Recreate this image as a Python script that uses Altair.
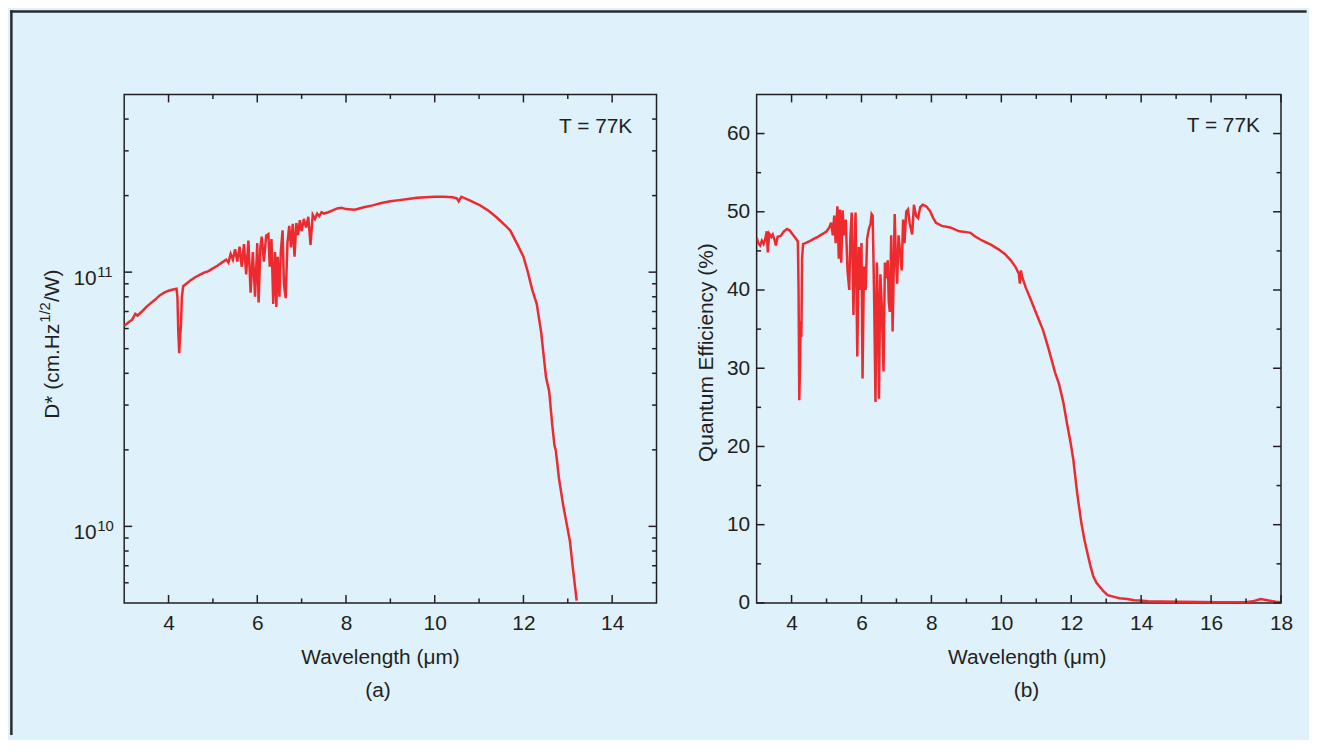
import altair as alt
import pandas as pd

# ---------------- data ----------------
# Panel (a): detectivity D* (in units of 1e10 cm.Hz^1/2/W) vs wavelength (um)
lam_a = [3.00, 3.10, 3.18, 3.25, 3.30, 3.40, 3.50, 3.60, 3.70, 3.80, 3.90, 4.00, 4.10, 4.18,
         4.20, 4.22, 4.24, 4.26, 4.28, 4.30, 4.33, 4.40, 4.50, 4.60, 4.70, 4.80, 4.90, 5.00,
         5.10, 5.20, 5.30, 5.35, 5.40, 5.45, 5.50, 5.55, 5.60, 5.65, 5.70, 5.75, 5.80, 5.85,
         5.90, 5.95, 6.00, 6.03, 6.07, 6.10, 6.15, 6.20, 6.25, 6.28, 6.32, 6.36, 6.40, 6.43,
         6.46, 6.50, 6.53, 6.57, 6.60, 6.64, 6.68, 6.72, 6.76, 6.80, 6.84, 6.88, 6.92, 6.96,
         7.00, 7.05, 7.10, 7.15, 7.20, 7.25, 7.30, 7.35, 7.40, 7.45, 7.50, 7.60, 7.70, 7.80,
         7.90, 8.00, 8.20, 8.40, 8.60, 8.80, 9.00, 9.20, 9.40, 9.60, 9.80, 10.00, 10.20, 10.40,
         10.50, 10.54, 10.60, 10.80, 11.00, 11.20, 11.40, 11.60, 11.70, 11.85, 12.00, 12.10,
         12.20, 12.30, 12.40, 12.45, 12.51, 12.58, 12.65, 12.70, 12.73, 12.80, 12.90, 12.95,
         13.05, 13.10, 13.20]
dstar_a = [6.15, 6.35, 6.5, 6.85, 6.75, 7.0, 7.3, 7.55, 7.8, 8.1, 8.3, 8.45, 8.55, 8.6,
           8.0, 5.8, 4.8, 5.6, 6.2, 8.0, 8.8, 9.0, 9.3, 9.55, 9.75, 9.95, 10.1, 10.35,
           10.6, 10.9, 11.2, 10.9, 11.8, 11.2, 12.3, 11.0, 12.6, 10.5, 12.9, 9.8, 13.3, 8.3,
           12.0, 8.0, 13.0, 7.6, 12.5, 13.8, 11.0, 13.9, 14.1, 10.5, 13.5, 7.5, 12.0, 7.3,
           11.5, 8.0, 12.0, 14.6, 9.0, 7.9, 13.0, 15.2, 12.5, 15.5, 11.5, 15.6, 14.0, 16.0,
           14.5, 16.2, 15.0, 16.5, 12.8, 16.8, 16.2, 17.0, 16.6, 17.2, 17.0, 17.2, 17.5, 17.8,
           17.9, 17.7, 17.6, 18.0, 18.3, 18.7, 19.0, 19.2, 19.4, 19.6, 19.7, 19.8, 19.8, 19.7,
           19.5, 19.0, 19.8, 19.1, 18.4, 17.5, 16.4, 15.2, 14.6, 13.0, 11.5, 10.0,
           8.5, 7.5, 5.8, 4.8, 3.85, 3.4, 2.5, 2.08, 1.99, 1.55, 1.2, 1.08,
           0.87, 0.72, 0.51]

# Panel (b): quantum efficiency (%) vs wavelength (um)
lam_b = [3.00, 3.05, 3.10, 3.15, 3.20, 3.25, 3.29, 3.32, 3.36, 3.42, 3.46, 3.52, 3.55, 3.60,
         3.69, 3.78, 3.87, 3.95, 4.00, 4.10, 4.18, 4.20, 4.22, 4.24, 4.26, 4.28, 4.30, 4.33,
         4.40, 4.50, 4.62, 4.75, 4.90, 5.00, 5.08, 5.13, 5.18, 5.22, 5.26, 5.31, 5.35, 5.38,
         5.42, 5.46, 5.50, 5.55, 5.60, 5.65, 5.68, 5.72, 5.77, 5.80, 5.83, 5.88, 5.92, 5.96,
         6.00, 6.03, 6.07, 6.12, 6.16, 6.21, 6.26, 6.29, 6.32, 6.36, 6.40, 6.44, 6.47, 6.50,
         6.54, 6.58, 6.63, 6.67, 6.71, 6.75, 6.78, 6.81, 6.85, 6.89, 6.95, 6.98, 7.02, 7.06,
         7.10, 7.15, 7.19, 7.23, 7.28, 7.33, 7.38, 7.45, 7.50, 7.56, 7.62, 7.68, 7.75, 7.85,
         7.96, 8.05, 8.13, 8.30, 8.54, 8.80, 9.00, 9.12, 9.23, 9.46, 9.70, 9.92, 10.10, 10.27,
         10.40, 10.50, 10.53, 10.56, 10.60, 10.70, 10.85, 11.00, 11.19, 11.35, 11.54, 11.65,
         11.78, 11.88, 11.98, 12.06, 12.17, 12.29, 12.38, 12.46, 12.55, 12.63, 12.72, 12.81,
         12.92, 13.04, 13.20, 13.38, 13.60, 13.80, 13.96, 14.20, 14.54, 15.00, 15.69, 16.20,
         16.85, 17.00, 17.19, 17.42, 17.65, 17.85, 18.00]
qe_b = [46.7, 46.0, 45.7, 46.3, 45.9, 46.6, 47.5, 44.8, 47.2, 46.8, 47.1, 46.3, 45.7, 46.8,
        46.9, 47.5, 47.8, 47.6, 47.3, 46.7, 46.2, 40.0, 25.9, 30.0, 36.0, 34.0, 44.0, 45.9,
        46.0, 46.2, 46.5, 46.8, 47.2, 47.5, 48.0, 48.6, 47.0, 49.5, 46.0, 50.7, 44.0, 50.3,
        43.5, 50.2, 47.0, 49.0, 42.5, 40.0, 46.5, 49.9, 36.8, 45.0, 49.9, 31.5, 45.5, 40.0,
        46.0, 28.7, 43.0, 40.0, 46.5, 47.8, 48.5, 49.7, 49.5, 39.5, 25.7, 43.5, 38.0, 26.1,
        42.0, 38.0, 29.6, 43.5, 41.5, 43.8, 38.5, 37.2, 47.0, 34.7, 49.7, 44.5, 40.8, 47.0,
        45.0, 42.5, 49.0, 46.0, 50.0, 50.3, 48.5, 47.1, 50.9, 49.5, 49.2, 50.6, 50.9, 50.7,
        50.1, 49.2, 48.6, 48.2, 48.0, 47.5, 47.4, 47.3, 46.9, 46.3, 45.8, 45.2, 44.6, 43.8,
        43.0, 42.1, 40.8, 42.5, 41.6, 40.3, 38.7, 37.0, 34.9, 32.5, 29.4, 28.0,
        25.5, 22.9, 20.5, 18.3, 14.0, 10.2, 8.0, 6.4, 4.7, 3.4, 2.6, 2.1,
        1.5, 1.0, 0.8, 0.6, 0.5, 0.35, 0.3, 0.2, 0.17, 0.15, 0.13, 0.1,
        0.08, 0.1, 0.2, 0.5, 0.3, 0.15, 0.1]

# axis ticks / labels
xdomain_a = [3, 15]
xmajor_a = [4, 6, 8, 10, 12, 14]
xminor_a = [5, 7, 9, 11, 13]
ydomain_a = [5e9, 5e11]
ymajor_a = [1e10, 1e11]
ylabel_base_a = ["10", "10"]
ylabel_exp_a = ["10", "11"]
yminor_a = [6e9, 7e9, 8e9, 9e9, 2e10, 3e10, 4e10, 5e10, 6e10, 7e10, 8e10, 9e10,
            2e11, 3e11, 4e11]

xdomain_b = [3, 18]
xmajor_b = [4, 6, 8, 10, 12, 14, 16, 18]
xminor_b = [5, 7, 9, 11, 13, 15, 17]
ydomain_b = [0, 65]
ymajor_b = [0, 10, 20, 30, 40, 50, 60]
yminor_b = [5, 15, 25, 35, 45, 55]

# ---------------- style ----------------
FONT = "Liberation Sans"
FS = 21
INK = "#231f20"
RED = "#ee2a2e"
BG = "#dff1fb"
FRAME = "#2b2b2b"
W1, W2, H = 536, 528, 512
MAJ, MIN = 8, 4.5

one = pd.DataFrame({"k": [0]})


def tick_layers(xmaj, xmin, ymaj, ymin, xsc, ysc, xax, yax, W):
    out = []
    for vals, L in ((xmaj, MAJ), (xmin, MIN)):
        df = pd.DataFrame({"lam": vals})
        base = alt.Chart(df).mark_rule(color=INK, strokeWidth=1.5)
        xe = alt.X("lam:Q", scale=xsc, axis=xax)
        out.append(base.encode(x=xe, y=alt.value(H), y2=alt.value(H - L)))
        out.append(base.encode(x=xe, y=alt.value(0), y2=alt.value(L)))
    for vals, L in ((ymaj, MAJ), (ymin, MIN)):
        df = pd.DataFrame({"val": vals})
        base = alt.Chart(df).mark_rule(color=INK, strokeWidth=1.5)
        ye = alt.Y("val:Q", scale=ysc, axis=yax)
        out.append(base.encode(y=ye, x=alt.value(0), x2=alt.value(L)))
        out.append(base.encode(y=ye, x=alt.value(W), x2=alt.value(W - L)))
    return out


def label(text, x, y, align, size=FS, angle=0):
    return alt.Chart(one).mark_text(
        text=text, align=align, baseline="alphabetic", font=FONT, fontSize=size,
        color=INK, clip=False, angle=angle
    ).encode(x=alt.value(x), y=alt.value(y))


# ---------------- panel (a) ----------------
xs_a = alt.Scale(domain=xdomain_a, nice=False, zero=False)
ys_a = alt.Scale(type="log", domain=ydomain_a, nice=False)
xax_a = alt.Axis(values=xmajor_a, labelPadding=10, title="Wavelength (μm)",
                 titleX=257.6, titleY=61.5, titleAlign="center", titleBaseline="alphabetic")
df_a = pd.DataFrame({"lam": lam_a, "val": [v * 1e10 for v in dstar_a]})

line_a = alt.Chart(df_a).mark_line(color=RED, strokeWidth=2.5, clip=True).encode(
    x=alt.X("lam:Q", scale=xs_a, axis=xax_a),
    y=alt.Y("val:Q", scale=ys_a, axis=None),
)

# log-axis labels "10" with superscript exponent, placed through the y scale
df_lab_a = pd.DataFrame({"val": ymajor_a, "base": ylabel_base_a, "exp": ylabel_exp_a})
lab_base_a = alt.Chart(df_lab_a).mark_text(
    align="right", baseline="alphabetic", font=FONT, fontSize=FS, color=INK, dy=13, clip=False
).encode(y=alt.Y("val:Q", scale=ys_a, axis=None), x=alt.value(-27.7), text="base:N")
lab_exp_a = alt.Chart(df_lab_a).mark_text(
    align="left", baseline="alphabetic", font=FONT, fontSize=15, color=INK, dy=5, clip=False
).encode(y=alt.Y("val:Q", scale=ys_a, axis=None), x=alt.value(-27.2), text="exp:N")

# y title with a real superscript, rotated
ytitle_a = [
    label("D* (cm.Hz", -66, 326.5, "left", FS, 270),
    label("1/2", -75, 230, "left", 15, 270),
    label("/W)", -66, 209, "left", FS, 270),
]

frame_top = alt.Chart(one).mark_rule(color=FRAME, strokeWidth=2.5, clip=False).encode(
    x=alt.value(-114.85), x2=alt.value(1190.6), y=alt.value(-83.5))
frame_left = alt.Chart(one).mark_rule(color=FRAME, strokeWidth=2.5, clip=False).encode(
    x=alt.value(-113.6), y=alt.value(-84.75), y2=alt.value(645))

panel_a = alt.layer(
    line_a,
    *tick_layers(xmajor_a, xminor_a, ymajor_a, yminor_a, xs_a, ys_a, xax_a, None, W1),
    lab_base_a, lab_exp_a, *ytitle_a,
    frame_top, frame_left,
    label("T = 77K", 511.6, 38.8, "right"),
    label("(a)", 255.6, 607.2, "center"),
).properties(width=W1, height=H)

# ---------------- panel (b) ----------------
xs_b = alt.Scale(domain=xdomain_b, nice=False, zero=False)
ys_b = alt.Scale(domain=ydomain_b, nice=False, zero=False)
xax_b = alt.Axis(values=xmajor_b, labelPadding=10, title="Wavelength (μm)",
                 titleX=272, titleY=61.5, titleAlign="center", titleBaseline="alphabetic")
yax_b = alt.Axis(values=ymajor_b, labelPadding=7,
                 title="Quantum Efficiency (%)", titleX=-44, titleY=259.5, titleAngle=270,
                 titleAlign="center", titleBaseline="alphabetic")
df_b = pd.DataFrame({"lam": lam_b, "val": qe_b})

line_b = alt.Chart(df_b).mark_line(color=RED, strokeWidth=2.5, clip=True).encode(
    x=alt.X("lam:Q", scale=xs_b, axis=xax_b),
    y=alt.Y("val:Q", scale=ys_b, axis=yax_b),
)

panel_b = alt.layer(
    line_b,
    *tick_layers(xmajor_b, xminor_b, ymajor_b, yminor_b, xs_b, ys_b, xax_b, yax_b, W2),
    label("T = 77K", 506.8, 38.0, "right"),
    label("(b)", 271.8, 607.2, "center"),
).properties(width=W2, height=H)

chart = alt.hconcat(panel_a, panel_b, spacing=100.8, bounds="flush").properties(
    padding={"left": 0, "top": -2.5, "right": 0, "bottom": 0}
).configure(background=BG).configure_view(
    stroke=INK, strokeWidth=1.5
).configure_axis(
    labelFont=FONT, labelFontSize=FS, labelColor=INK,
    titleFont=FONT, titleFontSize=FS, titleFontWeight="normal", titleColor=INK,
    domain=False, ticks=False, grid=False, labelFlush=False, labelOverlap=False,
)

chart.save("out.html", embed_options={"renderer": "svg", "actions": False})
